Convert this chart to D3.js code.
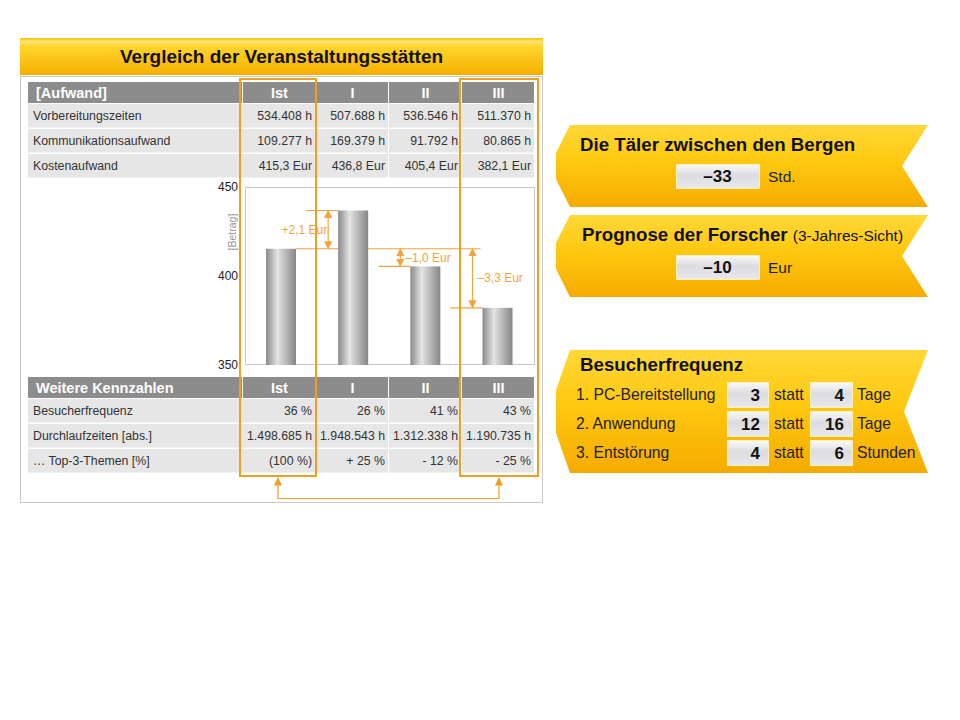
<!DOCTYPE html>
<html>
<head>
<meta charset="utf-8">
<script src="https://cdn.jsdelivr.net/npm/d3@7"></script>
<style>
  body { margin: 0; background: #fff; }
  text { font-family: "Liberation Sans", Arial, sans-serif; }
</style>
</head>
<body>
<div id="canvas"></div>
<script>
// table + chart data
const columns = ["Ist", "I", "II", "III"];
const aufwandLabels = ["Vorbereitungszeiten", "Kommunikationsaufwand", "Kostenaufwand"];
const vorbereitung = [534408, 507688, 536546, 511370];
const kommunikation = [109277, 169379, 91792, 80865];
const kosten = [415.3, 436.8, 405.4, 382.1];
const kennzahlLabels = ["Besucherfrequenz", "Durchlaufzeiten [abs.]", "… Top-3-Themen [%]"];
const besucher = [36, 26, 41, 43];
const durchlauf = [1498685, 1948543, 1312338, 1190735];
const top3 = ["(100 %)", "+ 25 %", "- 12 %", "- 25 %"];
const yTicks = [350, 400, 450];
const deltaLabels = ["+2,1 Eur", "–1,0 Eur", "–3,3 Eur"];

// right side panels
const taelerWert = "–33";
const prognoseWert = "–10";
const frequenzItems = ["1. PC-Bereitstellung", "2. Anwendung", "3. Entstörung"];
const frequenzNeu = [3, 12, 4];
const frequenzAlt = [4, 16, 6];
const frequenzUnits = ["Tage", "Tage", "Stunden"];

const de = d3.formatLocale({ decimal: ",", thousands: ".", grouping: [3], currency: ["", " Eur"] });
const fInt = de.format(",.0f");
const fDec = de.format(",.1f");

const width = 960, height = 720;
const orange = "#F0A020";
const annot = "#F2A53C";

const svg = d3.select("#canvas").append("svg")
  .attr("width", width)
  .attr("height", height);

svg.append("rect").attr("width", width).attr("height", height).attr("fill", "#fff");

const defs = svg.append("defs");

function vGrad(id, stops) {
  const g = defs.append("linearGradient").attr("id", id)
    .attr("x1", 0).attr("y1", 0).attr("x2", 0).attr("y2", 1);
  stops.forEach(s => g.append("stop").attr("offset", s[0]).attr("stop-color", s[1]));
}
vGrad("titleGrad", [["0%", "#F7C200"], ["10%", "#FFE57A"], ["22%", "#FFD62E"], ["100%", "#F6AE00"]]);
vGrad("panelGrad", [["0%", "#FFD838"], ["45%", "#FFC810"], ["100%", "#F5AB00"]]);
vGrad("boxGrad", [["0%", "#FAFAFA"], ["45%", "#DCDCE0"], ["100%", "#E9E9EC"]]);

const barGrad = defs.append("linearGradient").attr("id", "barGrad")
  .attr("x1", 0).attr("y1", 0).attr("x2", 1).attr("y2", 0);
[["0%", "#8A8A8A"], ["38%", "#E4E4E4"], ["100%", "#858585"]]
  .forEach(s => barGrad.append("stop").attr("offset", s[0]).attr("stop-color", s[1]));

function arrowMarker(id, color) {
  defs.append("marker").attr("id", id)
    .attr("viewBox", "0 0 10 10").attr("refX", 9).attr("refY", 5)
    .attr("markerWidth", 7).attr("markerHeight", 7)
    .attr("orient", "auto-start-reverse")
    .append("path").attr("d", "M0,0 L10,5 L0,10 z").attr("fill", color);
}
arrowMarker("arr", annot);
arrowMarker("arrBox", orange);

// ---------- left panel ----------
const left = 20, right = 543;

svg.append("rect")
  .attr("x", left).attr("y", 38).attr("width", right - left).attr("height", 37)
  .attr("fill", "url(#titleGrad)");
svg.append("text")
  .attr("x", (left + right) / 2).attr("y", 63)
  .attr("text-anchor", "middle")
  .attr("font-size", 19).attr("font-weight", "bold").attr("fill", "#111")
  .text("Vergleich der Veranstaltungsstätten");

svg.append("rect")
  .attr("x", left + 0.5).attr("y", 76.5).attr("width", right - left - 1).attr("height", 426)
  .attr("fill", "#fff").attr("stroke", "#C8C8C8");

const col = d3.scaleBand().domain(columns).range([243, 535]);
const labelX = 28;

function drawTable(top, header, labels, rows) {
  const g = svg.append("g");
  g.append("rect").attr("x", labelX).attr("y", top).attr("width", col.range()[0] - labelX - 1).attr("height", 21)
    .attr("fill", "#8C8C8C");
  g.selectAll(".hcell").data(columns).enter().append("rect")
    .attr("x", d => col(d)).attr("y", top)
    .attr("width", col.bandwidth() - 1).attr("height", 21)
    .attr("fill", "#8C8C8C");
  g.append("text").attr("x", 36).attr("y", top + 16)
    .attr("font-size", 14.5).attr("font-weight", "bold").attr("fill", "#fff").text(header);
  g.selectAll(".htext").data(columns).enter().append("text")
    .attr("x", d => col(d) + col.bandwidth() / 2).attr("y", top + 16)
    .attr("text-anchor", "middle")
    .attr("font-size", 14.5).attr("font-weight", "bold").attr("fill", "#fff").text(d => d);

  rows.forEach((vals, i) => {
    const ry = top + 22 + i * 25;
    g.append("rect").attr("x", labelX).attr("y", ry).attr("width", col.range()[0] - labelX).attr("height", 23.5)
      .attr("fill", "#E6E6E6");
    g.selectAll(null).data(columns).enter().append("rect")
      .attr("x", d => col(d)).attr("y", ry)
      .attr("width", col.bandwidth() - 1).attr("height", 23.5)
      .attr("fill", "#E6E6E6");
    g.append("text").attr("x", 33).attr("y", ry + 16)
      .attr("font-size", 12.3).attr("fill", "#333").text(labels[i]);
    g.selectAll(null).data(columns).enter().append("text")
      .attr("x", d => col(d) + col.bandwidth() - 4).attr("y", ry + 16)
      .attr("text-anchor", "end")
      .attr("font-size", 12.3).attr("fill", "#333")
      .text((d, j) => vals[j]);
  });
}

drawTable(82, "[Aufwand]", aufwandLabels, [
  vorbereitung.map(v => fInt(v) + " h"),
  kommunikation.map(v => fInt(v) + " h"),
  kosten.map(v => fDec(v) + " Eur")
]);

drawTable(377, "Weitere Kennzahlen", kennzahlLabels, [
  besucher.map(v => v + " %"),
  durchlauf.map(v => fInt(v) + " h"),
  top3
]);

// ---------- bar chart ----------
const y = d3.scaleLinear().domain([350, 450]).range([365, 187]);
const xp = d3.scalePoint().domain(columns).range([281, 497.5]);
const barW = 30;

svg.append("rect")
  .attr("x", 245.5).attr("y", 187.5).attr("width", 289).attr("height", 177)
  .attr("fill", "#fff").attr("stroke", "#C8C8C8");

const yAxis = svg.append("g")
  .attr("transform", "translate(245,0)")
  .call(d3.axisLeft(y).tickValues(yTicks).tickSize(0).tickPadding(7));
yAxis.select(".domain").remove();
yAxis.selectAll("text").attr("font-size", 12).attr("fill", "#222")
  .attr("font-family", "Liberation Sans, Arial, sans-serif");

svg.append("text")
  .attr("transform", "translate(236,232) rotate(-90)")
  .attr("text-anchor", "middle")
  .attr("font-size", 10.5).attr("fill", "#999")
  .text("[Betrag]");

// reference line at the Ist level
const annG = svg.append("g").attr("stroke", annot).attr("stroke-width", 1.2);
annG.append("line")
  .attr("x1", xp("Ist") + barW / 2).attr("x2", xp("III") - barW / 2 - 2)
  .attr("y1", y(kosten[0])).attr("y2", y(kosten[0]));

svg.selectAll(".bar").data(kosten).enter().append("rect")
  .attr("class", "bar")
  .attr("x", (d, i) => xp(columns[i]) - barW / 2)
  .attr("y", d => y(d))
  .attr("width", barW)
  .attr("height", d => y(350) - y(d))
  .attr("fill", "url(#barGrad)");

kosten.slice(1).forEach((v, k) => {
  const i = k + 1;
  const bx = xp(columns[i]) - barW / 2;
  const ax = bx - 10;
  annG.append("line")
    .attr("x1", bx - 32).attr("x2", bx)
    .attr("y1", y(v)).attr("y2", y(v));
  annG.append("line")
    .attr("x1", ax).attr("x2", ax)
    .attr("y1", y(kosten[0])).attr("y2", y(v))
    .attr("marker-start", "url(#arr)").attr("marker-end", "url(#arr)");
  const mid = (y(kosten[0]) + y(v)) / 2;
  svg.append("text")
    .attr("x", i === 1 ? ax - 1 : ax + 5).attr("y", mid + 4)
    .attr("text-anchor", i === 1 ? "end" : "start")
    .attr("font-size", 12).attr("fill", annot)
    .text(deltaLabels[k]);
});

// orange highlight boxes
const boxes = [
  { x0: col("Ist") - 3, x1: col("Ist") + col.bandwidth() },
  { x0: col("III") - 2, x1: col("III") + col.bandwidth() + 3 }
];
svg.selectAll(".hl").data(boxes).enter().append("rect")
  .attr("x", d => d.x0).attr("y", 79)
  .attr("width", d => d.x1 - d.x0).attr("height", 397)
  .attr("fill", "none").attr("stroke", orange).attr("stroke-width", 2);

const c0 = (boxes[0].x0 + boxes[0].x1) / 2, c1 = (boxes[1].x0 + boxes[1].x1) / 2;
svg.append("path")
  .attr("d", `M${c0},478 L${c0},498.5 L${c1},498.5 L${c1},478`)
  .attr("fill", "none").attr("stroke", orange).attr("stroke-width", 1.2)
  .attr("marker-start", "url(#arrBox)").attr("marker-end", "url(#arrBox)");

// ---------- right chevron panels ----------
function chevron(x0, y0, x1, y1, cut, notch) {
  const mid = (y0 + y1) / 2;
  return `M${x0 + 14},${y0} L${x1},${y0} L${x1 - notch},${mid} L${x1},${y1} L${x0 + 14},${y1}` +
    ` L${x0},${y1 - cut} L${x0},${y0 + cut} Z`;
}

function valueBox(x, yy, w, h, txt, anchor) {
  svg.append("rect").attr("x", x + 0.5).attr("y", yy + 0.5).attr("width", w).attr("height", h)
    .attr("fill", "url(#boxGrad)").attr("stroke", "#FFF2C0").attr("stroke-width", 1);
  svg.append("text")
    .attr("x", anchor === "middle" ? x + w / 2 : x + w - 8)
    .attr("y", yy + h / 2 + 6)
    .attr("text-anchor", anchor)
    .attr("font-size", 17).attr("font-weight", "bold").attr("fill", "#111")
    .text(txt);
}

svg.append("path").attr("d", chevron(556, 125, 928, 207, 28, 26)).attr("fill", "url(#panelGrad)");
svg.append("text").attr("x", 580).attr("y", 151)
  .attr("font-size", 18.7).attr("font-weight", "bold").attr("fill", "#111")
  .text("Die Täler zwischen den Bergen");
valueBox(676, 164, 83, 24, taelerWert, "middle");
svg.append("text").attr("x", 768).attr("y", 182).attr("font-size", 15.5).attr("fill", "#222").text("Std.");

svg.append("path").attr("d", chevron(556, 215, 928, 297, 28, 26)).attr("fill", "url(#panelGrad)");
const prog = svg.append("text").attr("x", 582).attr("y", 241).attr("fill", "#111");
prog.append("tspan").attr("font-size", 18.7).attr("font-weight", "bold").text("Prognose der Forscher ");
prog.append("tspan").attr("font-size", 15.5).text("(3-Jahres-Sicht)");
valueBox(676, 255, 83, 24, prognoseWert, "middle");
svg.append("text").attr("x", 768).attr("y", 273).attr("font-size", 15.5).attr("fill", "#222").text("Eur");

svg.append("path").attr("d", chevron(556, 350, 928, 473, 40, 24)).attr("fill", "url(#panelGrad)");
svg.append("text").attr("x", 580).attr("y", 371)
  .attr("font-size", 18.7).attr("font-weight", "bold").attr("fill", "#111")
  .text("Besucherfrequenz");

frequenzItems.forEach((label, i) => {
  const ry = 382 + i * 29;
  svg.append("text").attr("x", 576).attr("y", ry + 18).attr("font-size", 15.7).attr("fill", "#222").text(label);
  valueBox(727, ry, 41, 25, frequenzNeu[i], "end");
  svg.append("text").attr("x", 774).attr("y", ry + 18).attr("font-size", 15.7).attr("fill", "#222").text("statt");
  valueBox(810, ry, 42, 25, frequenzAlt[i], "end");
  svg.append("text").attr("x", 857).attr("y", ry + 18).attr("font-size", 15.7).attr("fill", "#222").text(frequenzUnits[i]);
});
</script>
</body>
</html>
